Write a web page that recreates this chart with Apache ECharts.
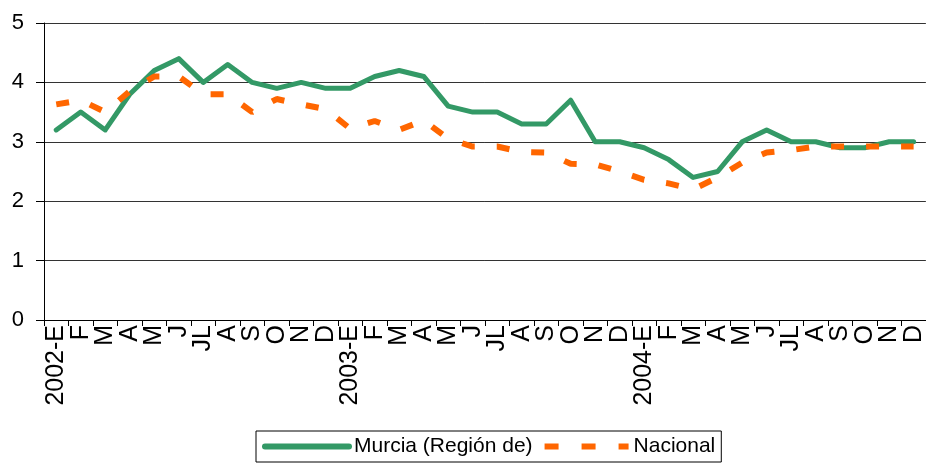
<!DOCTYPE html>
<html>
<head>
<meta charset="utf-8">
<script src="https://cdn.jsdelivr.net/npm/echarts@6/dist/echarts.min.js"></script>
<style>
html,body{margin:0;padding:0;background:#fff;}
#chart{width:926px;height:466px;}
</style>
</head>
<body>
<div id="chart"></div>
<script>
var categories = ['2002-E','F','M','A','M','J','JL','A','S','O','N','D',
                  '2003-E','F','M','A','M','J','JL','A','S','O','N','D',
                  '2004-E','F','M','A','M','J','JL','A','S','O','N','D'];
var murcia = [3.2,3.5,3.2,3.8,4.2,4.4,4.0,4.3,4.0,3.9,4.0,3.9,
              3.9,4.1,4.2,4.1,3.6,3.5,3.5,3.3,3.3,3.7,3.0,3.0,
              2.9,2.7,2.4,2.5,3.0,3.2,3.0,3.0,2.9,2.9,3.0,3.0];
var nacional = [3.63,3.7,3.5,3.85,4.1,4.1,3.8,3.8,3.5,3.72,3.63,3.55,
                3.22,3.35,3.2,3.36,3.05,2.92,2.92,2.83,2.82,2.63,2.62,2.5,
                2.36,2.3,2.2,2.4,2.65,2.82,2.86,2.92,2.92,2.92,2.92,2.92];
var yTicks = [0,1,2,3,4,5];
var seriesNames = ['Murcia (Región de)','Nacional'];

var chart = echarts.init(document.getElementById('chart'), null, {renderer:'canvas'});
var font = 'Liberation Sans, Arial, sans-serif';
chart.setOption({
  animation:false,
  backgroundColor:'#ffffff',
  grid:{left:44, top:23, width:891, height:297, containLabel:false},
  legend:{
    left:256, top:431,
    padding:[5,6,5,6],
    itemGap:9,
    itemWidth:84, itemHeight:14,
    borderColor:'#000', borderWidth:1,
    textStyle:{fontFamily:font, fontSize:21, color:'#000'},
    data:[
      {name:seriesNames[0], itemStyle:{opacity:0, borderWidth:0},
       lineStyle:{color:'#339966', width:6, type:'solid', cap:'round'}},
      {name:seriesNames[1], itemStyle:{opacity:0, borderWidth:0},
       lineStyle:{color:'#ff6600', width:6, type:[14,23], cap:'butt'}}
    ]
  },
  xAxis:{
    type:'category',
    data:categories,
    boundaryGap:true,
    axisLine:{lineStyle:{color:'#000', width:1}},
    axisTick:{show:true, length:6, interval:0, lineStyle:{color:'#000'}},
    axisLabel:{rotate:90, interval:0, margin:5, fontFamily:font, fontSize:25, color:'#000'},
    splitLine:{show:false}
  },
  yAxis:{
    type:'value',
    min:yTicks[0], max:yTicks[yTicks.length-1], interval:1,
    axisLine:{show:true, lineStyle:{color:'#000', width:1}},
    axisTick:{show:true, length:8, lineStyle:{color:'#000'}},
    axisLabel:{margin:20, fontFamily:font, fontSize:22, color:'#000'},
    splitLine:{show:true, lineStyle:{color:'#333', width:1}}
  },
  series:[
    {
      name:seriesNames[0], type:'line', data:murcia,
      symbol:'none', smooth:false,
      lineStyle:{color:'#339966', width:5, join:'round', cap:'round'},
      itemStyle:{color:'#339966'},
      z:2
    },
    {
      name:seriesNames[1], type:'line', data:nacional,
      symbol:'none', smooth:false,
      lineStyle:{color:'#ff6600', width:6, type:[13,22], cap:'butt'},
      itemStyle:{color:'#ff6600'},
      z:3
    }
  ]
});
</script>
</body>
</html>
